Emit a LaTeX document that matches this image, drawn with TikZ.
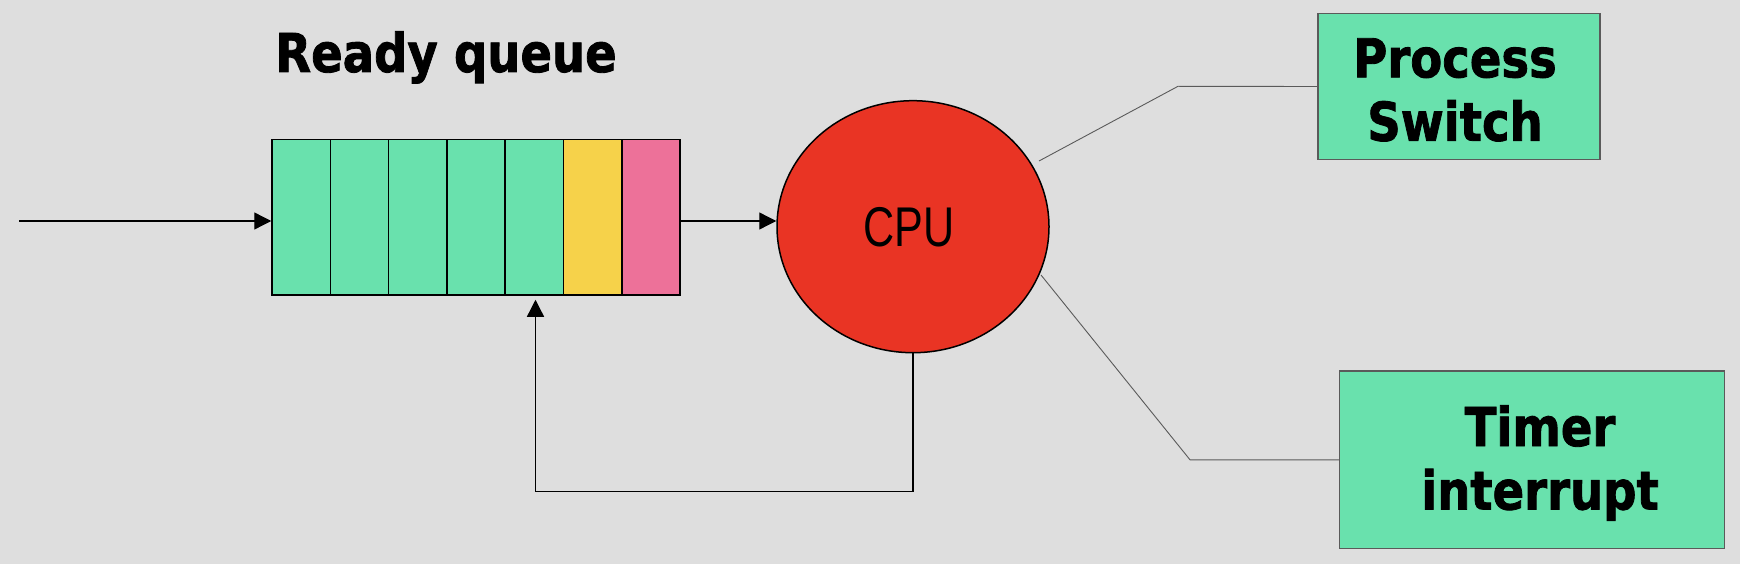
\documentclass[tikz,border=0pt]{standalone}
\usepackage{fontspec}
\usetikzlibrary{shapes.geometric,arrows.meta}
\newfontfamily\lblfont{DejaVu Sans}[BoldFont={DejaVu Sans Bold},BoldFeatures={FakeBold=1.6}]
\newfontfamily\cpufont{Liberation Sans}
\definecolor{bgc}{HTML}{DEDEDE}
\definecolor{qgreen}{HTML}{69E1AD}
\definecolor{qyellow}{HTML}{F6D24A}
\definecolor{qpink}{HTML}{ED7199}
\definecolor{cpured}{HTML}{E93424}
\definecolor{lgray}{HTML}{5A5A5A}
\newcommand{\sqz}[1]{\scalebox{0.87}[1]{#1}}
\tikzset{
  cell/.style={draw=black, line width=1.5pt, minimum width=58.29pt, minimum height=155.4pt, inner sep=0pt, anchor=center},
  arr/.style={line width=1.3pt, -{Triangle[length=17pt,width=17pt]}},
  gline/.style={draw=lgray, line width=0.9pt},
  sidebox/.style={draw=lgray, line width=1.2pt, fill=qgreen, inner sep=0pt},
  biglabel/.style={font=\lblfont\bfseries\fontsize{53.5}{63.5}\selectfont, inner sep=0pt, anchor=base, align=center},
}
\begin{document}
\begin{tikzpicture}[x=1pt,y=-1pt]
\fill[bgc] (0,0) rectangle (1740,564);
\useasboundingbox (0,0) rectangle (1740,564);
% queue cells
\node[cell, fill=qgreen]  (c1) at (301.15,217.3) {};
\node[cell, fill=qgreen]  (c2) at (359.44,217.3) {};
\node[cell, fill=qgreen]  (c3) at (417.73,217.3) {};
\node[cell, fill=qgreen]  (c4) at (476.02,217.3) {};
\node[cell, fill=qgreen]  (c5) at (534.31,217.3) {};
\node[cell, fill=qyellow] (c6) at (592.60,217.3) {};
\node[cell, fill=qpink]   (c7) at (650.89,217.3) {};
% title
\node[biglabel] (title) at (446,72) {\sqz{Ready queue}};
% CPU
\node[ellipse, draw=black, line width=1.5pt, fill=cpured, minimum width=272pt, minimum height=252pt, inner sep=0pt] (cpu) at (913,226.7) {};
\node[inner sep=0pt, anchor=base, font=\cpufont\fontsize{56}{60}\selectfont] (cputxt) at (909,246.4) {\scalebox{0.77}[1]{CPU}};
% side boxes
\node[sidebox, minimum width=282pt, minimum height=145.7pt] (psbox) at (1459,86.5) {};
\node[biglabel] (pslbl) at (1455,77.3) {\sqz{\begin{tabular}[t]{@{}c@{}}Process\\Switch\end{tabular}}};
\node[sidebox, minimum width=385pt, minimum height=177.6pt] (tibox) at (1532,459.8) {};
\node[biglabel] (tilbl) at (1540,446) {\sqz{\begin{tabular}[t]{@{}c@{}}Timer\\interrupt\end{tabular}}};
% connectors
\coordinate (in) at (19,221);
\draw[arr] (in) -- (c1.west |- in);
\draw[arr] (c7.east |- in) -- (cpu.west |- in);
\coordinate (fb) at (535.5,491.7);
\draw[arr] (cpu.south) |- (fb) -- ([yshift=-4pt]fb |- c5.south);
\coordinate (psa) at (1039,161);
\coordinate (psb) at (1178,86.3);
\draw[gline] (psa) -- (psb) -- (psbox.west);
\coordinate (tia) at (1041,275);
\coordinate (tib) at (1190,459.8);
\draw[gline] (tia) -- (tib) -- (tibox.west);
\end{tikzpicture}
\end{document}
